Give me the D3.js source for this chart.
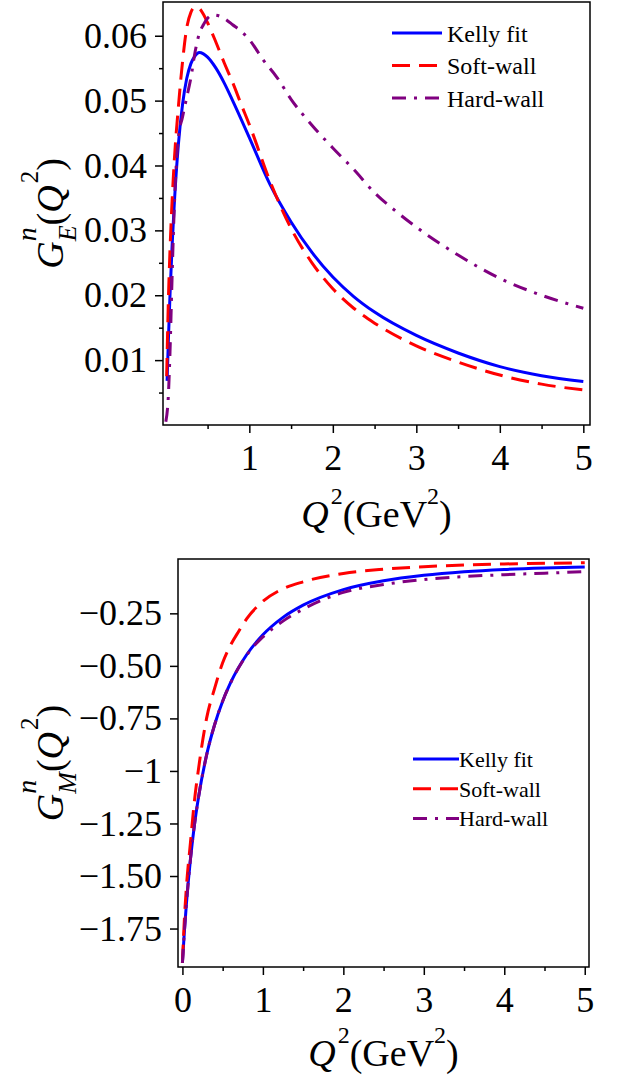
<!DOCTYPE html>
<html>
<head>
<meta charset="utf-8">
<script src="https://cdn.jsdelivr.net/npm/d3@7/dist/d3.min.js"></script>
<style>
  body{ margin:0; background:#fff; }
  svg{ display:block; font-family:"Liberation Serif","Times New Roman",serif; }
</style>
</head>
<body>
<script>
// ---- top panel: G_E^n(Q^2) ----
var kellyE_q = [0.015,0.03,0.05,0.075,0.1,0.15,0.2,0.25,0.3,0.35,0.4,0.45,0.5,0.6,0.7,0.8,1.0,1.25,1.5,1.75,2.0,2.25,2.5,3.0,3.5,4.0,4.5,5.0];
var kellyE_g = [0.0068,0.0129,0.0201,0.0276,0.0338,0.0432,0.0494,0.0534,0.0557,0.0569,0.0574,0.0572,0.0567,0.0550,0.0527,0.0500,0.0443,0.0370,0.0313,0.0266,0.0228,0.0198,0.0174,0.0138,0.0111,0.0090,0.0076,0.0067];

var softE_q = [0.01,0.03,0.05,0.075,0.1,0.15,0.2,0.25,0.3,0.35,0.4,0.45,0.5,0.6,0.7,0.8,0.9,1.0,1.25,1.5,1.75,2.0,2.25,2.5,3.0,3.5,4.0,4.5,5.0];
var softE_g = [0.0075,0.0190,0.0270,0.0345,0.0405,0.0490,0.0560,0.0612,0.0636,0.0644,0.0642,0.0633,0.0620,0.0590,0.0558,0.0528,0.0495,0.0463,0.0375,0.0303,0.0250,0.0210,0.0180,0.0157,0.0122,0.0097,0.0077,0.0063,0.0054];

var hardE_q = [0,0.03,0.05,0.07,0.09,0.12,0.15,0.2,0.25,0.3,0.35,0.4,0.45,0.5,0.57,0.65,0.73,0.8,0.9,1.0,1.17,1.33,1.5,1.75,2.0,2.25,2.5,2.75,3.0,3.5,4.0,4.5,5.0];
var hardE_g = [0.0005,0.0045,0.0113,0.0206,0.0294,0.0390,0.0443,0.0475,0.0505,0.0535,0.0575,0.0603,0.0617,0.0627,0.0632,0.0630,0.0624,0.0617,0.0607,0.0594,0.0562,0.0536,0.0502,0.0462,0.0427,0.0394,0.0358,0.0330,0.0305,0.0262,0.0226,0.0200,0.0180];

var topXTicks = [1,2,3,4,5];
var topXMinor = [0.5,1.5,2.5,3.5,4.5];
var topYTicks = [0.01,0.02,0.03,0.04,0.05,0.06];
var topYLabels = ["0.01","0.02","0.03","0.04","0.05","0.06"];
var topYMinor = [0.005,0.015,0.025,0.035,0.045,0.055];

// ---- bottom panel: G_M^n(Q^2) ----
var kellyM_q = [0,0.025,0.05,0.1,0.15,0.2,0.3,0.4,0.5,0.6,0.8,1.0,1.25,1.5,2.0,2.5,3.0,3.5,4.0,4.5,5.0];
var kellyM_g = [-1.913,-1.76,-1.63,-1.42,-1.255,-1.125,-0.925,-0.78,-0.668,-0.579,-0.446,-0.352,-0.269,-0.211,-0.137,-0.095,-0.069,-0.052,-0.041,-0.034,-0.029];

var softM_q = [0,0.025,0.05,0.1,0.15,0.2,0.3,0.4,0.5,0.6,0.7,0.8,1.0,1.25,1.5,2.0,2.5,3.0,3.5,4.0,4.5,5.0];
var softM_g = [-1.913,-1.70,-1.55,-1.34,-1.14,-0.99,-0.75,-0.607,-0.485,-0.40,-0.335,-0.275,-0.193,-0.133,-0.100,-0.060,-0.040,-0.028,-0.020,-0.015,-0.012,-0.009];

var hardM_q = [0,0.025,0.05,0.1,0.15,0.2,0.3,0.4,0.5,0.6,0.8,1.0,1.25,1.5,2.0,2.5,3.0,3.5,4.0,4.5,5.0];
var hardM_g = [-1.913,-1.76,-1.63,-1.42,-1.255,-1.125,-0.925,-0.78,-0.668,-0.58,-0.448,-0.362,-0.287,-0.230,-0.150,-0.113,-0.089,-0.075,-0.066,-0.059,-0.052];

var botXTicks = [0,1,2,3,4,5];
var botXMinor = [0.5,1.5,2.5,3.5,4.5];
var botYTicks = [-0.25,-0.5,-0.75,-1,-1.25,-1.5,-1.75];
var botYLabels = ["\u22120.25","\u22120.50","\u22120.75","\u22121","\u22121.25","\u22121.50","\u22121.75"];

var seriesNames = ["Kelly fit","Soft-wall","Hard-wall"];
var seriesColors = ["#0000ff","#ff0000","#800080"];
var seriesDash = [null,"18,9","14,8,3,8"];

var width = 618, height = 1078;

var svg = d3.select("body").append("svg")
    .attr("width", width)
    .attr("height", height);

function zip(q, g){
  return q.map(function(d,i){ return [d, g[i]]; });
}

// lays out a row of text pieces (super/subscripts) centred on 0
function richText(g, pieces){
  var x = 0, baseX = 0;
  pieces.forEach(function(p){
    var t = g.append("text")
      .attr("font-size", p.size)
      .attr("font-style", p.italic ? "italic" : null)
      .attr("y", p.dy || 0)
      .attr("fill", "#000")
      .text(p.t);
    var w = t.node().getComputedTextLength();
    if(p.stack){
      t.attr("x", baseX);
      x = Math.max(x, baseX + w);
    }else{
      baseX = x + (p.dx || 0);
      t.attr("x", baseX);
      x = baseX + w;
    }
  });
  g.selectAll("text").attr("x", function(){ return +d3.select(this).attr("x") - x/2; });
}

function panel(o){
  var x = d3.scaleLinear().domain(o.xDomain).range([o.left, o.right]);
  var y = d3.scaleLinear().domain(o.yDomain).range([o.bottom, o.top]);

  var clipId = "clip" + o.id;
  svg.append("clipPath").attr("id", clipId)
    .append("rect")
      .attr("x", o.left).attr("y", o.top)
      .attr("width", o.right - o.left).attr("height", o.bottom - o.top);

  var line = d3.line()
    .x(function(d){ return x(d[0]); })
    .y(function(d){ return y(d[1]); })
    .curve(d3.curveMonotoneX);

  var curves = svg.append("g").attr("clip-path", "url(#" + clipId + ")");
  o.series.forEach(function(s, i){
    curves.append("path")
      .attr("d", line(s))
      .attr("fill", "none")
      .attr("stroke", seriesColors[i])
      .attr("stroke-width", 3)
      .attr("stroke-dasharray", seriesDash[i]);
  });

  // axes
  var axes = svg.append("g")
    .attr("class", "axes");

  axes.append("g")
    .attr("transform", "translate(0," + o.bottom + ")")
    .call(d3.axisBottom(x).tickValues(o.xTicks).tickFormat(d3.format("d"))
      .tickSize(8).tickSizeOuter(0).tickPadding(11));
  axes.append("g")
    .attr("transform", "translate(0," + o.bottom + ")")
    .call(d3.axisBottom(x).tickValues(o.xMinor).tickFormat("").tickSize(4).tickSizeOuter(0));

  axes.append("g")
    .attr("transform", "translate(" + o.left + ",0)")
    .call(d3.axisLeft(y).tickValues(o.yTicks)
      .tickFormat(function(d,i){ return o.yLabels[i]; })
      .tickSize(8).tickSizeOuter(0).tickPadding(8));
  if(o.yMinor){
    axes.append("g")
      .attr("transform", "translate(" + o.left + ",0)")
      .call(d3.axisLeft(y).tickValues(o.yMinor).tickFormat("").tickSize(4).tickSizeOuter(0));
  }

  axes.selectAll(".domain").remove();
  axes.selectAll("g").attr("font-family", null).attr("font-size", null);
  axes.selectAll(".tick line").attr("stroke", "#000").attr("stroke-width", 1.5);
  axes.selectAll(".tick text").attr("font-size", 36).attr("fill", "#000");

  // frame
  svg.append("rect")
    .attr("x", o.left).attr("y", o.top)
    .attr("width", o.right - o.left).attr("height", o.bottom - o.top)
    .attr("fill", "none")
    .attr("stroke", "#000")
    .attr("stroke-width", 1.5);

  // legend
  var lg = svg.append("g");
  seriesNames.forEach(function(name, i){
    var ly = o.legend.y0 + i * o.legend.dy;
    lg.append("line")
      .attr("x1", o.legend.x1).attr("x2", o.legend.x2)
      .attr("y1", ly).attr("y2", ly)
      .attr("stroke", seriesColors[i])
      .attr("stroke-width", 3)
      .attr("stroke-dasharray", seriesDash[i]);
    lg.append("text")
      .attr("x", o.legend.tx)
      .attr("y", ly + o.legend.font * 0.36)
      .attr("font-size", o.legend.font)
      .text(name);
  });

  // axis titles
  var xt = svg.append("g")
    .attr("transform", "translate(" + ((o.left + o.right) / 2) + "," + o.xTitleY + ")");
  richText(xt, [
    {t:"Q", size:38, italic:true},
    {t:"2", size:24, dy:-23, dx:2},
    {t:"(GeV", size:38},
    {t:"2", size:24, dy:-23},
    {t:")", size:38}
  ]);

  var yt = svg.append("g")
    .attr("transform", "translate(" + o.yTitleX + "," + ((o.top + o.bottom) / 2) + ")rotate(-90)");
  richText(yt, [
    {t:"G", size:38, italic:true},
    {t:"n", size:28, italic:true, dy:-27},
    {t:o.sub, size:26, italic:true, dy:13, stack:true},
    {t:"(", size:38},
    {t:"Q", size:38, italic:true},
    {t:"2", size:25, dy:-25, dx:2},
    {t:")", size:38}
  ]);
}

panel({
  id: "top",
  left: 163, right: 590, top: 2, bottom: 425,
  xDomain: [-0.034, 5.08], yDomain: [0, 0.0652],
  xTicks: topXTicks, xMinor: topXMinor,
  yTicks: topYTicks, yLabels: topYLabels, yMinor: topYMinor,
  series: [zip(kellyE_q, kellyE_g), zip(softE_q, softE_g), zip(hardE_q, hardE_g)],
  legend: {x1: 392, x2: 442, tx: 447, y0: 33, dy: 32.5, font: 24},
  xTitleY: 527, yTitleX: 63, sub: "E"
});

panel({
  id: "bot",
  left: 178, right: 589, top: 559, bottom: 967,
  xDomain: [-0.055, 5.053], yDomain: [-1.933, 0.0086],
  xTicks: botXTicks, xMinor: botXMinor,
  yTicks: botYTicks, yLabels: botYLabels, yMinor: null,
  series: [zip(kellyM_q, kellyM_g), zip(softM_q, softM_g), zip(hardM_q, hardM_g)],
  legend: {x1: 413, x2: 459, tx: 459, y0: 759, dy: 29.7, font: 22},
  xTitleY: 1066, yTitleX: 63, sub: "M"
});
</script>
</body>
</html>
